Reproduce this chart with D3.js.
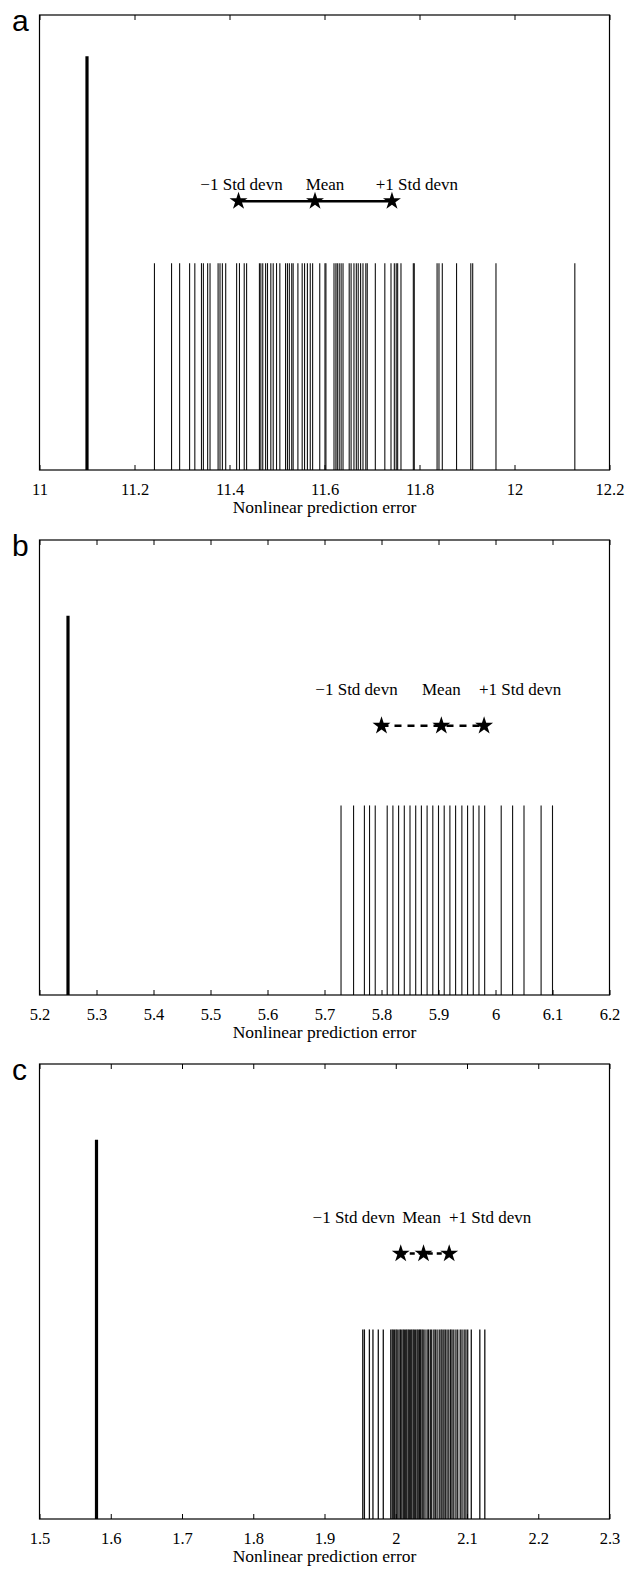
<!DOCTYPE html>
<html>
<head>
<meta charset="utf-8">
<script src="https://cdn.jsdelivr.net/npm/d3@7"></script>
<style>
  html, body { margin: 0; padding: 0; background: #fff; }
  svg text { font-family: "Liberation Serif", "Times New Roman", serif; fill: #000; }
  .letter { font-family: "Liberation Sans", Arial, sans-serif; }
</style>
</head>
<body>
<svg id="fig" width="640" height="1570"></svg>
<script>
// ---- Panel a: nonlinear prediction error, original series vs surrogates ----
const ticksA = [11, 11.2, 11.4, 11.6, 11.8, 12, 12.2];
const originalA = 11.1;
const surrogatesA = [
  11.242, 11.278, 11.295, 11.316, 11.327, 11.341, 11.345, 11.354, 11.359, 11.376,
  11.380, 11.385, 11.392, 11.415, 11.421, 11.431, 11.436, 11.463, 11.466, 11.470,
  11.476, 11.480, 11.487, 11.492, 11.499, 11.506, 11.518, 11.522, 11.526, 11.531,
  11.534, 11.544, 11.553, 11.558, 11.564, 11.570, 11.575, 11.590, 11.601, 11.603,
  11.620, 11.624, 11.627, 11.631, 11.635, 11.639, 11.652, 11.656, 11.662, 11.667,
  11.671, 11.676, 11.681, 11.687, 11.690, 11.707, 11.727, 11.740, 11.747, 11.751,
  11.754, 11.761, 11.787, 11.789, 11.837, 11.841, 11.848, 11.878, 11.908, 11.912,
  11.961, 12.127
];
const statsA = [11.419, 11.580, 11.742];   // -1 sd, mean, +1 sd

// ---- Panel b ----
const ticksB = [5.2, 5.3, 5.4, 5.5, 5.6, 5.7, 5.8, 5.9, 6, 6.1, 6.2];
const originalB = 5.25;
const surrogatesB = [
  5.729, 5.751, 5.770, 5.779, 5.789, 5.810, 5.820, 5.830, 5.840, 5.850,
  5.860, 5.870, 5.880, 5.890, 5.900, 5.910, 5.920, 5.930, 5.941, 5.951,
  5.961, 5.971, 5.981, 6.010, 6.030, 6.050, 6.080, 6.100
];
const statsB = [5.800, 5.905, 5.980];

// ---- Panel c ----
const ticksC = [1.5, 1.6, 1.7, 1.8, 1.9, 2, 2.1, 2.2, 2.3];
const originalC = 1.58;
const surrogatesC = [
  1.9537, 1.9560, 1.9630, 1.9680, 1.9755, 1.9825, 1.9930, 1.9950, 1.9965, 1.9985,
  2.0005, 2.0020, 2.0045, 2.0065, 2.0085, 2.0105, 2.0120, 2.0140, 2.0155, 2.0175,
  2.0190, 2.0210, 2.0225, 2.0245, 2.0260, 2.0280, 2.0300, 2.0315, 2.0335, 2.0350,
  2.0370, 2.0385, 2.0410, 2.0440, 2.0460, 2.0485, 2.0505, 2.0535, 2.0555, 2.0580,
  2.0610, 2.0635, 2.0650, 2.0675, 2.0695, 2.0720, 2.0745, 2.0770, 2.0790, 2.0815,
  2.0845, 2.0870, 2.0905, 2.0930, 2.0960, 2.0985, 2.1010, 2.1060, 2.1180, 2.1250
];
const statsC = [2.007, 2.039, 2.075];

const statLabels = ["\u22121 Std devn", "Mean", "+1 Std devn"];
const panelLetters = ["a", "b", "c"];
const xTitle = "Nonlinear prediction error";

// heights of the marks in plot units
const originalHeight = 1.0;
const surrogateHeight = 0.5;
const statLevels = [0.65, 0.71, 0.70];
const yMax = [1.1, 1.2, 1.2];

// ---- layout ----
const left = 39.5, right = 609.5;
const panelTops = [15, 540, 1064];
const plotH = 455;

const panels = [
  { letter: panelLetters[0], ticks: ticksA, orig: originalA, surr: surrogatesA, stats: statsA,
    level: statLevels[0], ymax: yMax[0], dash: null, labelDx: [3, 10, 25], labelDy: -11, sw: 1.1 },
  { letter: panelLetters[1], ticks: ticksB, orig: originalB, surr: surrogatesB, stats: statsB,
    level: statLevels[1], ymax: yMax[1], dash: "7,6", labelDx: [-25, 0, 36], labelDy: -31, sw: 1.1 },
  { letter: panelLetters[2], ticks: ticksC, orig: originalC, surr: surrogatesC, stats: statsC,
    level: statLevels[2], ymax: yMax[2], dash: "5,4", labelDx: [-47, -2, 41], labelDy: -31, sw: 1.3 }
];

const svg = d3.select("#fig");

panels.forEach((p, i) => {
  const top = panelTops[i];
  const x = d3.scaleLinear()
    .domain([p.ticks[0], p.ticks[p.ticks.length - 1]])
    .range([left, right]);
  const y = d3.scaleLinear().domain([0, p.ymax]).range([top + plotH, top]);

  const g = svg.append("g");

  // panel letter
  g.append("text").attr("class", "letter")
    .attr("x", 12).attr("y", top + 16)
    .attr("font-size", 30)
    .text(p.letter);

  // surrogate values: thin lines
  g.append("g").selectAll("line").data(p.surr).join("line")
    .attr("x1", d => x(d)).attr("x2", d => x(d))
    .attr("y1", y(0)).attr("y2", y(surrogateHeight))
    .attr("stroke", "#111").attr("stroke-width", p.sw);

  // original series: thick line
  g.append("line")
    .attr("x1", x(p.orig)).attr("x2", x(p.orig))
    .attr("y1", y(0)).attr("y2", y(originalHeight))
    .attr("stroke", "#000").attr("stroke-width", 3.2);

  // bottom axis, ticks pointing inward
  const axB = d3.axisBottom(x).tickValues(p.ticks).tickSize(-5).tickPadding(13)
    .tickFormat(d => String(d));
  const gb = g.append("g").attr("transform", `translate(0,${top + plotH})`).call(axB);
  gb.select(".domain").remove();
  gb.selectAll("line").attr("stroke", "#000");
  gb.selectAll("text").attr("font-size", 16.5)
    .attr("font-family", '"Liberation Serif", "Times New Roman", serif');

  // top axis ticks
  const axT = d3.axisTop(x).tickValues(p.ticks).tickSize(-5).tickFormat("");
  const gt = g.append("g").attr("transform", `translate(0,${top})`).call(axT);
  gt.select(".domain").remove();
  gt.selectAll("line").attr("stroke", "#000");

  // frame
  g.append("rect")
    .attr("x", left).attr("y", top)
    .attr("width", right - left).attr("height", plotH)
    .attr("fill", "none").attr("stroke", "#000").attr("stroke-width", 1.2);

  // axis title
  g.append("text")
    .attr("x", (left + right) / 2).attr("y", top + plotH + 43)
    .attr("text-anchor", "middle").attr("font-size", 17.5)
    .text(xTitle);

  // -1 sd / mean / +1 sd markers
  const sy = y(p.level);
  const seg = g.append("line")
    .attr("x1", x(p.stats[0])).attr("x2", x(p.stats[2]))
    .attr("y1", sy).attr("y2", sy)
    .attr("stroke", "#000").attr("stroke-width", 2.5);
  if (p.dash) seg.attr("stroke-dasharray", p.dash);

  const star = d3.symbol().type(d3.symbolStar).size(100);
  g.append("g").selectAll("path").data(p.stats).join("path")
    .attr("d", star)
    .attr("transform", d => `translate(${x(d)},${sy})`)
    .attr("fill", "#000");

  g.append("g").selectAll("text").data(p.stats).join("text")
    .attr("x", (d, k) => x(d) + p.labelDx[k])
    .attr("y", sy + p.labelDy)
    .attr("text-anchor", "middle")
    .attr("font-size", 17)
    .text((d, k) => statLabels[k]);
});
</script>
</body>
</html>
